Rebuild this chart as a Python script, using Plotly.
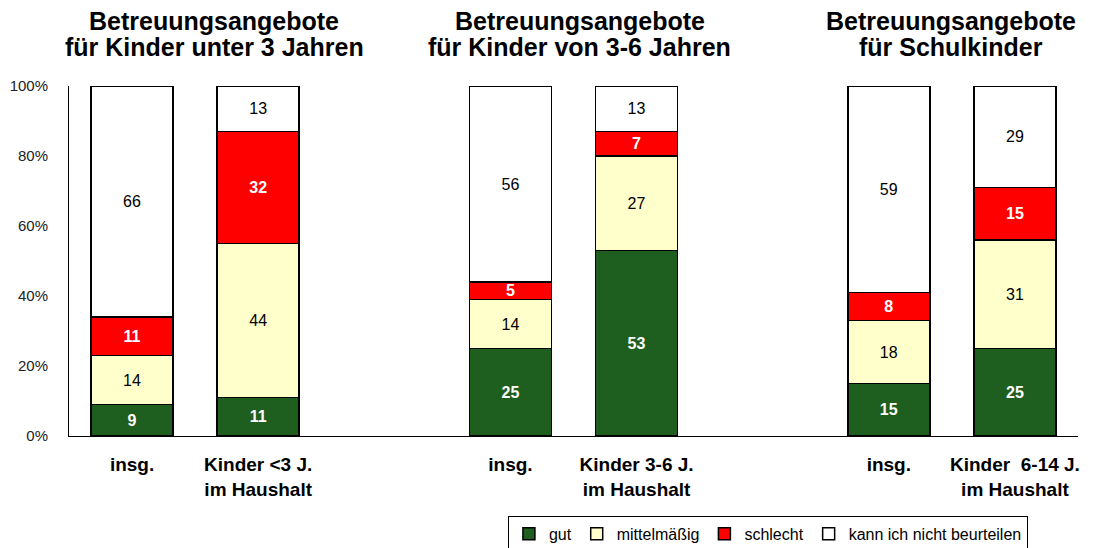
import plotly.graph_objects as go

# slot positions (8 slots, two of them empty gaps)
x_pos = [0, 1, 3, 4, 6, 7]
tick_labels = ["insg.", "Kinder <3 J.<br>im Haushalt",
               "insg.", "Kinder 3-6 J.<br>im Haushalt",
               "insg.", "Kinder  6-14 J.<br>im Haushalt"]
title_line1 = ["Betreuungsangebote", "Betreuungsangebote", "Betreuungsangebote"]
title_line2 = ["für Kinder unter 3 Jahren", "für Kinder von 3-6 Jahren", "für Schulkinder"]
title_centers = [0.65, 3.55, 6.49]

series_names = ["gut", "mittelmäßig", "schlecht", "kann ich nicht beurteilen"]
gut = [9, 11, 25, 53, 15, 25]
mittel = [14, 44, 14, 27, 18, 31]
schlecht = [11, 32, 5, 7, 8, 15]
kann_nicht = [66, 13, 56, 13, 59, 29]

colors = ["#1E5E1E", "#FFFFCC", "#FF0000", "#FFFFFF"]
text_colors = ["white", "black", "white", "black"]
text_bold = [True, False, True, False]

fig = go.Figure()
for name, vals, col, tc, bold in zip(series_names, [gut, mittel, schlecht, kann_nicht],
                                     colors, text_colors, text_bold):
    fig.add_trace(go.Bar(
        x=x_pos, y=vals, name=name,
        marker=dict(color=col, line=dict(color="black", width=1.5)),
        width=0.65,
        text=[f"<b>{v}</b>" if bold else str(v) for v in vals],
        textposition="inside", insidetextanchor="middle", textangle=0,
        textfont=dict(color=tc, size=16, family="Arial"),
        constraintext="none",
        hoverinfo="skip",
    ))

for l1, l2, cx in zip(title_line1, title_line2, title_centers):
    fig.add_annotation(text=f"<b>{l1}</b>", x=cx, xref="x", y=1.186, yref="paper",
                       yanchor="middle", showarrow=False,
                       font=dict(size=25, family="Arial", color="black"))
    fig.add_annotation(text=f"<b>{l2}</b>", x=cx, xref="x", y=1.111, yref="paper",
                       yanchor="middle", showarrow=False,
                       font=dict(size=25, family="Arial", color="black"))

# page body has an 8px margin, so the figure is sized/offset to compensate
fig.update_layout(
    barmode="stack",
    width=1093, height=540,
    margin=dict(l=61, r=23, t=78, b=112, autoexpand=False),
    plot_bgcolor="white", paper_bgcolor="white",
    font=dict(family="Arial", color="black"),
    uniformtext=dict(mode=False),
    showlegend=True,
    legend=dict(orientation="h", x=0.435, xanchor="left", y=-0.228, yanchor="top",
                traceorder="normal",
                bordercolor="black", borderwidth=1, font=dict(size=16, family="Arial"),
                itemwidth=30, tracegroupgap=0),
    xaxis=dict(range=[-0.5, 7.5], tickvals=x_pos,
               ticktext=[f"<b>{t}</b>" for t in tick_labels],
               tickfont=dict(size=19, family="Arial", color="black"),
               showline=True, linecolor="black", linewidth=1, showgrid=False,
               zeroline=False, ticks="", ticklabelstandoff=11, automargin=False),
    yaxis=dict(range=[0, 100], tickvals=[0, 20, 40, 60, 80, 100],
               ticktext=["0%", "20%", "40%", "60%", "80%", "100%"],
               tickfont=dict(size=15, family="Arial", color="#222"),
               showline=True, linecolor="black", linewidth=1, showgrid=False,
               zeroline=False, ticks="", ticklabelstandoff=17, automargin=False),
)

fig.write_html("out.html")
